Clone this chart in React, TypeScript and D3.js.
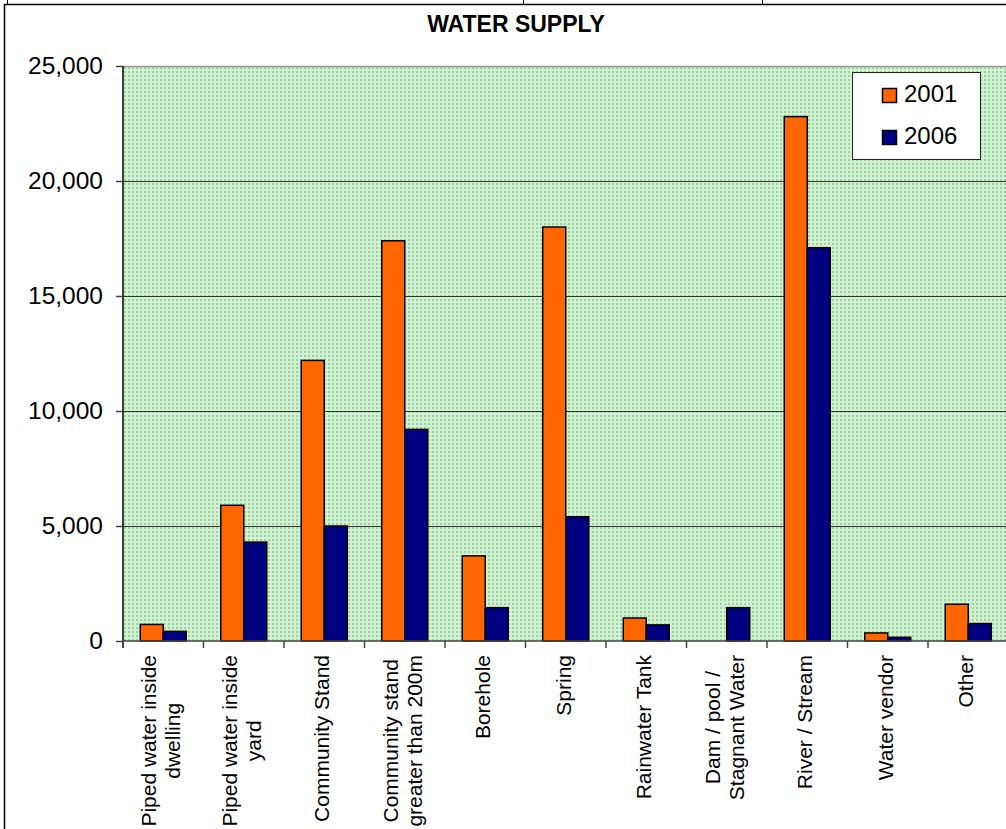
import * as d3 from "d3";
import { useEffect, useRef } from "react";

const categories = [
  ["Piped water inside", "dwelling"],
  ["Piped water inside", "yard"],
  ["Community Stand"],
  ["Community stand", "greater than 200m"],
  ["Borehole"],
  ["Spring"],
  ["Rainwater Tank"],
  ["Dam / pool /", "Stagnant Water"],
  ["River / Stream"],
  ["Water vendor"],
  ["Other"],
];

const values2001 = [720, 5900, 12200, 17400, 3700, 18000, 1000, 0, 22800, 350, 1600];
const values2006 = [420, 4300, 5000, 9200, 1450, 5400, 700, 1450, 17100, 160, 760];

const series = [
  { name: "2001", values: values2001, color: "#FF6600" },
  { name: "2006", values: values2006, color: "#000080" },
];

const yTicks = [0, 5000, 10000, 15000, 20000, 25000];

const FONT = "'Liberation Sans', Arial, sans-serif";

export default function App() {
  const svgRef = useRef<SVGSVGElement>(null);
  const width = 1006;
  const height = 829;

  useEffect(() => {
    if (!svgRef.current) return;
    const svg = d3.select(svgRef.current);
    svg.selectAll("*").remove();

    const plot = { left: 123, right: 1008.5, top: 66, bottom: 641 };

    // background dotted pattern like the spreadsheet fill
    const defs = svg.append("defs");
    const pat = defs
      .append("pattern")
      .attr("id", "dots")
      .attr("width", 4)
      .attr("height", 4)
      .attr("patternUnits", "userSpaceOnUse")
      .attr("x", plot.left)
      .attr("y", plot.top);
    pat.append("rect").attr("width", 4).attr("height", 4).attr("fill", "#cdf5cd");
    pat.append("rect").attr("x", 1).attr("y", 1).attr("width", 2).attr("height", 2).attr("fill", "#abc8ab");

    // chart frame + cell lines above it
    svg.append("rect").attr("width", width).attr("height", height).attr("fill", "white");
    svg
      .append("path")
      .attr("d", `M4.5,${height} V4.5 H${width}`)
      .attr("fill", "none")
      .attr("stroke", "#000")
      .attr("stroke-width", 1.5);
    [7.5, 523.5, 762.5].forEach((x) => {
      svg
        .append("line")
        .attr("x1", x)
        .attr("x2", x)
        .attr("y1", 0)
        .attr("y2", 4)
        .attr("stroke", "#000");
    });

    const x0 = d3
      .scaleBand<number>()
      .domain(d3.range(categories.length))
      .range([plot.left, plot.right]);

    const x1 = d3
      .scaleBand<string>()
      .domain(series.map((s) => s.name))
      .range([0, x0.bandwidth()])
      .paddingInner(0)
      .paddingOuter(0.75);

    const y = d3.scaleLinear().domain([0, 25000]).range([plot.bottom, plot.top]);

    // plot area
    svg
      .append("rect")
      .attr("x", plot.left)
      .attr("y", plot.top)
      .attr("width", plot.right - plot.left)
      .attr("height", plot.bottom - plot.top)
      .attr("fill", "url(#dots)");

    svg
      .append("line")
      .attr("x1", plot.left)
      .attr("x2", plot.right)
      .attr("y1", plot.top + 0.5)
      .attr("y2", plot.top + 0.5)
      .attr("stroke", "#999")
      .attr("stroke-width", 1.5);

    // gridlines
    svg
      .append("g")
      .selectAll("line")
      .data(yTicks.slice(1, -1))
      .enter()
      .append("line")
      .attr("x1", plot.left)
      .attr("x2", plot.right)
      .attr("y1", (d) => Math.round(y(d)) + 0.5)
      .attr("y2", (d) => Math.round(y(d)) + 0.5)
      .attr("stroke", "#333")
      .attr("stroke-width", 1);

    // y axis
    const yAxis = svg
      .append("g")
      .attr("transform", `translate(${plot.left},0)`)
      .call(
        d3
          .axisLeft(y)
          .tickValues(yTicks)
          .tickSize(7)
          .tickPadding(13)
          .tickFormat((d) => d3.format(",")(d as number)),
      );
    yAxis.select(".domain").attr("stroke", "#000").attr("stroke-width", 1.5).attr("d", `M0,${plot.top}V${plot.bottom + 7}`);
    yAxis.selectAll(".tick line").attr("stroke", "#444").attr("stroke-width", 1.5);
    yAxis
      .selectAll(".tick text")
      .attr("fill", "#000")
      .style("font-family", FONT)
      .style("font-size", "24.5px");

    // bars
    series.forEach((s) => {
      svg
        .append("g")
        .selectAll("rect")
        .data(s.values.map((v, i) => ({ v, i })).filter((d) => d.v > 0))
        .enter()
        .append("rect")
        .attr("x", (d) => (x0(d.i) as number) + (x1(s.name) as number))
        .attr("y", (d) => y(d.v))
        .attr("width", x1.bandwidth())
        .attr("height", (d) => plot.bottom - y(d.v))
        .attr("fill", s.color)
        .attr("stroke", "#000")
        .attr("stroke-width", 1.5);
    });

    // x axis
    svg
      .append("line")
      .attr("x1", plot.left)
      .attr("x2", plot.right)
      .attr("y1", plot.bottom)
      .attr("y2", plot.bottom)
      .attr("stroke", "#444")
      .attr("stroke-width", 1.5);
    svg
      .append("g")
      .selectAll("line")
      .data(d3.range(categories.length + 1))
      .enter()
      .append("line")
      .attr("x1", (i) => plot.left + i * x0.step())
      .attr("x2", (i) => plot.left + i * x0.step())
      .attr("y1", plot.bottom)
      .attr("y2", plot.bottom + 7)
      .attr("stroke", "#444")
      .attr("stroke-width", 1.5);

    // category labels, rotated, lines centred on each other
    const labelTop = 655;
    const fs = 21;
    const lh = 24;
    categories.forEach((lines, i) => {
      const cx = (x0(i) as number) + x0.bandwidth() / 2;
      const g = svg.append("g");
      const texts = lines.map((line) =>
        g
          .append("text")
          .attr("text-anchor", "middle")
          .style("font-family", FONT)
          .style("font-size", `${fs}px`)
          .attr("fill", "#000")
          .text(line),
      );
      const maxLen = d3.max(texts, (t) => (t.node() as SVGTextElement).getComputedTextLength()) || 0;
      const cy = labelTop + maxLen / 2;
      texts.forEach((t, j) => {
        const bx = cx + 5 + (j - (lines.length - 1) / 2) * lh;
        t.attr("transform", `translate(${bx},${cy}) rotate(-90)`);
      });
    });

    // title
    svg
      .append("text")
      .attr("x", 516)
      .attr("y", 32)
      .attr("text-anchor", "middle")
      .style("font-family", FONT)
      .style("font-size", "23px")
      .style("font-weight", "bold")
      .attr("fill", "#000")
      .text("WATER SUPPLY");

    // legend
    const legend = svg.append("g").attr("transform", "translate(852,72)");
    legend
      .append("rect")
      .attr("x", 0.5)
      .attr("y", 0.5)
      .attr("width", 128)
      .attr("height", 87)
      .attr("fill", "white")
      .attr("stroke", "#222")
      .attr("stroke-width", 1);
    series.forEach((s, i) => {
      const item = legend.append("g").attr("transform", `translate(0,${i * 42})`);
      item
        .append("rect")
        .attr("x", 30.5)
        .attr("y", 16.5)
        .attr("width", 14)
        .attr("height", 14)
        .attr("fill", s.color)
        .attr("stroke", "#000")
        .attr("stroke-width", 1.5);
      item
        .append("text")
        .attr("x", 52)
        .attr("y", 30)
        .style("font-family", FONT)
        .style("font-size", "24px")
        .attr("fill", "#000")
        .text(s.name);
    });
  }, []);

  return (
    <svg
      ref={svgRef}
      width={width}
      height={height}
      style={{ position: "absolute", left: 0, top: 0, display: "block" }}
    />
  );
}
